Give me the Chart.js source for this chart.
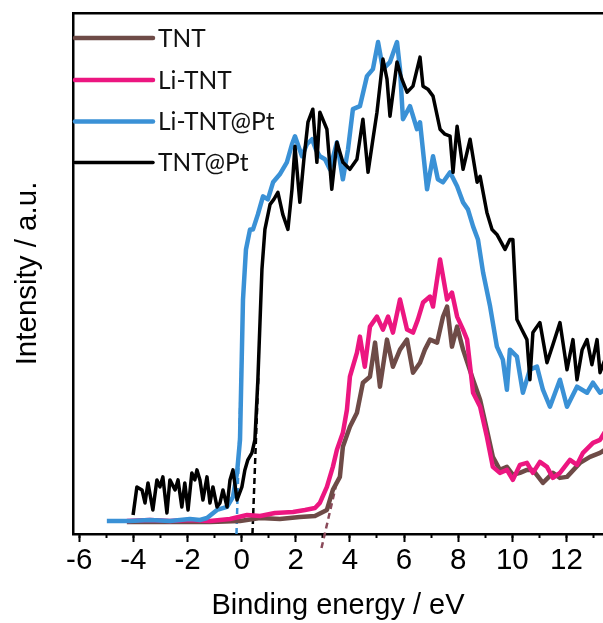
<!DOCTYPE html>
<html>
<head>
<meta charset="utf-8">
<script src="https://cdn.jsdelivr.net/npm/chart.js@4"></script>
<style>
  html, body { margin: 0; padding: 0; background: #fff; }
</style>
</head>
<body>
<canvas id="chart" width="603" height="623"></canvas>
<script>
// binding energy (eV) and intensity (a.u.)
const tntE = [-4.24,-2.65,-1.17,-0.06,0.68,1.41,2.15,2.71,3.15,3.37,3.63,3.74,4.00,4.26,4.48,4.74,4.93,5.11,5.37,5.59,5.85,6.11,6.33,6.59,6.77,6.96,7.22,7.44,7.59,7.77,7.96,8.18,8.55,8.81,9.06,9.28,9.54,9.80,10.02,10.28,10.54,10.76,11.13,11.50,11.76,12.02,12.50,12.87,13.24,13.42];
const tntI = [12,12,12,13,16,15,17,18,24,44,57,87,107,121,151,157,191,147,194,167,184,194,161,171,184,194,191,217,227,187,207,184,154,134,104,77,64,67,59,61,64,64,51,61,56,57,71,77,81,84];

const liE = [-4.24,-3.39,-2.65,-1.91,-1.17,-0.43,0.20,0.68,1.23,1.90,2.34,2.71,2.89,3.15,3.37,3.52,3.74,3.89,4.00,4.26,4.37,4.55,4.74,5.00,5.22,5.41,5.59,5.85,6.11,6.33,6.51,6.70,6.96,7.07,7.33,7.59,7.77,7.96,8.18,8.33,8.55,8.81,9.06,9.28,9.54,9.80,10.02,10.28,10.54,10.76,11.02,11.28,11.50,11.76,12.13,12.39,12.61,12.98,13.24,13.42];
const liI = [13,14,13,14,13,15,19,18,21,22,24,26,31,47,67,84,101,124,157,181,197,167,207,217,204,217,201,234,204,201,214,231,237,227,274,234,241,217,204,194,141,127,97,67,61,64,54,69,71,61,72,67,56,61,74,69,81,91,94,102];

const liPtE = [-4.98,-4.13,-3.39,-2.65,-1.91,-1.54,-1.28,-0.91,-0.54,-0.32,-0.17,-0.06,0.05,0.16,0.31,0.42,0.60,0.79,0.97,1.16,1.41,1.67,1.86,1.97,2.23,2.41,2.60,2.74,2.89,3.08,3.26,3.52,3.74,3.93,4.11,4.37,4.63,4.85,5.04,5.22,5.48,5.74,5.85,5.96,6.22,6.48,6.59,6.85,7.07,7.25,7.44,7.70,7.96,8.18,8.36,8.55,8.73,8.92,9.18,9.43,9.65,9.80,9.91,10.17,10.39,10.65,10.91,11.13,11.39,11.76,12.02,12.39,12.76,12.98,13.24,13.42];
const liPtI = [13,13,14,13,15,14,16,24,27,37,61,94,234,284,304,304,319,337,334,351,359,371,389,397,377,389,394,384,377,374,364,391,354,384,424,427,457,464,491,464,471,491,464,414,427,404,411,344,377,354,351,361,347,331,324,307,294,261,227,187,174,144,184,177,141,164,167,144,127,154,127,147,141,151,141,144];

const tntPtE = [-4.01,-3.87,-3.68,-3.57,-3.46,-3.28,-3.13,-3.02,-2.91,-2.76,-2.65,-2.46,-2.35,-2.21,-2.10,-1.98,-1.84,-1.73,-1.65,-1.54,-1.43,-1.28,-1.17,-1.06,-0.91,-0.80,-0.69,-0.54,-0.43,-0.32,-0.17,0.01,0.12,0.23,0.38,0.49,0.60,0.75,0.86,1.05,1.19,1.34,1.52,1.71,1.86,1.97,2.15,2.30,2.45,2.63,2.78,2.89,3.15,3.33,3.52,3.74,4.00,4.26,4.48,4.67,4.85,5.00,5.22,5.37,5.48,5.74,5.92,6.11,6.33,6.59,6.70,6.88,7.07,7.33,7.51,7.70,7.81,7.96,8.18,8.44,8.70,8.81,9.06,9.25,9.43,9.73,9.91,10.02,10.17,10.35,10.54,10.65,10.76,11.02,11.28,11.50,11.76,12.02,12.24,12.39,12.58,12.76,12.94,13.13,13.24,13.42];
const tntPtI = [19,47,44,31,51,24,54,47,57,21,54,44,54,27,51,24,61,54,64,54,34,57,31,47,27,31,44,27,54,64,34,47,64,74,81,94,154,264,304,329,334,341,319,304,344,387,331,374,411,424,371,421,404,344,391,371,364,374,414,361,394,421,474,454,417,471,454,441,447,476,447,444,437,404,399,397,361,407,364,394,351,357,321,304,299,284,294,294,214,204,194,154,201,211,171,189,211,164,194,154,184,194,169,194,161,174];

// linear onset fits (dashed)
const fitLiPtE = [-0.19, 0.02];
const fitLiPtI = [0, 200];
const fitTntPtE = [0.40, 0.62];
const fitTntPtI = [0, 160];
const fitTntE = [2.95, 3.50];
const fitTntI = [-14, 50];

const X_MIN = -6.23, X_MAX = 13.35;

function pts(xs, ys) {
  const n = Math.min(xs.length, ys.length);
  const out = [];
  for (let i = 0; i < n; i++) out.push({ x: xs[i], y: ys[i] });
  return out;
}

const series = (label, xs, ys, color, width, order) => ({
  label, data: pts(xs, ys), borderColor: color, borderWidth: width,
  pointRadius: 0, tension: 0, fill: false, order, borderJoinStyle: 'round'
});
const fit = (xs, ys, color) => ({
  label: '', data: pts(xs, ys), borderColor: color, borderWidth: 2.5,
  borderDash: [6, 4], pointRadius: 0, fill: false, order: 5, clip: false
});

const innerLegend = {
  id: 'innerLegend',
  afterDraw(chart) {
    const ctx = chart.ctx;
    const left = chart.chartArea.left;
    const rows = [38, 80, 121.5, 162.5];
    ctx.save();
    ctx.font = '24.5px Lato';
    ctx.textBaseline = 'middle';
    for (let i = 0; i < 4; i++) {
      const ds = chart.data.datasets[i];
      ctx.strokeStyle = ds.borderColor;
      ctx.lineWidth = i === 3 ? 3.5 : 4.5;
      ctx.lineCap = 'round';
      ctx.beginPath();
      ctx.moveTo(left + 2, rows[i]);
      ctx.lineTo(left + 80, rows[i]);
      ctx.stroke();
      ctx.fillStyle = '#111';
      ctx.fillText(ds.label, left + 85, rows[i] + 1);
    }
    ctx.restore();
  }
};

new Chart(document.getElementById('chart'), {
  type: 'line',
  data: {
    datasets: [
      series('TNT', tntE, tntI, '#6e4b47', 4.5, 3),
      series('Li-TNT', liE, liI, '#ec1680', 4.5, 2),
      series('Li-TNT@Pt', liPtE, liPtI, '#3a91d6', 4.5, 1),
      series('TNT@Pt', tntPtE, tntPtI, '#000000', 3.5, 0),
      fit(fitLiPtE, fitLiPtI, '#3a91d6'),
      fit(fitTntPtE, fitTntPtI, '#000000'),
      fit(fitTntE, fitTntI, '#8a4a5a')
    ]
  },
  options: {
    responsive: false,
    animation: false,
    layout: { padding: { top: 13, left: 0, right: 0, bottom: 0 } },
    plugins: { legend: { display: false }, tooltip: { enabled: false } },
    scales: {
      x: {
        type: 'linear', position: 'bottom', min: X_MIN, max: X_MAX, weight: 1,
        border: { display: true, color: '#000', width: 2.5 },
        grid: { display: true, drawOnChartArea: false, drawTicks: true, tickLength: 8, tickWidth: 2, tickColor: '#000' },
        ticks: { stepSize: 2, includeBounds: false, autoSkip: false, maxRotation: 0, color: '#000', padding: 1,
                 font: { family: 'Liberation Sans', size: 29.5 } },
        title: { display: true, text: 'Binding energy / eV', color: '#000',
                 font: { family: 'Liberation Sans', size: 29 }, padding: { top: 0, bottom: 0 } },
        afterFit: s => { s.height = 89; }
      },
      xMinor: {
        type: 'linear', position: 'bottom', min: X_MIN, max: X_MAX, weight: 0,
        border: { display: false },
        grid: { display: true, drawOnChartArea: false, drawTicks: true, tickLength: 4, tickWidth: 2, tickColor: '#000' },
        ticks: { stepSize: 1, includeBounds: false, autoSkip: false, display: false },
        afterFit: s => { s.height = 0; }
      },
      xTop: {
        type: 'linear', position: 'top', min: X_MIN, max: X_MAX,
        border: { display: true, color: '#000', width: 2.5 },
        grid: { display: false },
        ticks: { display: false },
        afterFit: s => { s.height = 0; }
      },
      y: {
        type: 'linear', position: 'left', min: 0, max: 520,
        border: { display: true, color: '#000', width: 2.5 },
        grid: { display: false },
        ticks: { display: false },
        title: { display: true, text: 'Intensity / a.u.', color: '#000',
                 font: { family: 'Liberation Sans', size: 29.5 }, padding: { top: 10, bottom: 0 } },
        afterFit: s => { s.width = 73; }
      }
    }
  },
  plugins: [innerLegend]
});
</script>
</body>
</html>
